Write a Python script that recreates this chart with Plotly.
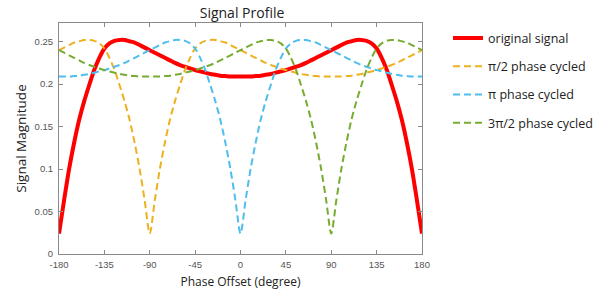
import plotly.graph_objects as go

phase_deg = list(range(-180, 181, 5))

original_signal = [0.024,0.063,0.100,0.131,0.158,0.180,0.199,0.217,0.231,0.242,0.248,0.251,0.252,0.252,0.2505,0.249,0.246,0.243,0.240,0.237,0.234,0.231,0.228,0.225,0.2225,0.2205,0.2185,0.2165,0.215,0.2135,0.212,0.211,0.210,0.2095,0.209,0.209,0.209,
                   0.209,0.209,0.2095,0.210,0.211,0.212,0.2135,0.215,0.2165,0.2185,0.2205,0.2225,0.225,0.228,0.231,0.234,0.237,0.240,0.243,0.246,0.249,0.2505,0.252,0.252,0.251,0.248,0.242,0.231,0.217,0.199,0.180,0.158,0.131,0.100,0.063,0.024]

half_pi_cycled = [0.240,0.243,0.246,0.249,0.2505,0.252,0.252,0.251,0.248,0.242,0.231,0.217,0.199,0.180,0.158,0.131,0.100,0.063,
                  0.024,
                  0.063,0.100,0.131,0.158,0.180,0.199,0.217,0.231,0.242,0.248,0.251,0.252,0.252,0.2505,0.249,0.246,0.243,0.240,0.237,0.234,0.231,0.228,0.225,0.2225,0.2205,0.2185,0.2165,0.215,0.2135,0.212,0.211,0.210,0.2095,0.209,0.209,0.209,
                  0.209,0.209,0.2095,0.210,0.211,0.212,0.2135,0.215,0.2165,0.2185,0.2205,0.2225,0.225,0.228,0.231,0.234,0.237,0.240]

pi_cycled = [0.209,0.209,0.209,0.2095,0.210,0.211,0.212,0.2135,0.215,0.2165,0.2185,0.2205,0.2225,0.225,0.228,0.231,0.234,0.237,0.240,0.243,0.246,0.249,0.2505,0.252,0.252,0.251,0.248,0.242,0.231,0.217,0.199,0.180,0.158,0.131,0.100,0.063,
             0.024,
             0.063,0.100,0.131,0.158,0.180,0.199,0.217,0.231,0.242,0.248,0.251,0.252,0.252,0.2505,0.249,0.246,0.243,0.240,0.237,0.234,0.231,0.228,0.225,0.2225,0.2205,0.2185,0.2165,0.215,0.2135,0.212,0.211,0.210,0.2095,0.209,0.209,0.209]

three_half_pi_cycled = [0.240,0.237,0.234,0.231,0.228,0.225,0.2225,0.2205,0.2185,0.2165,0.215,0.2135,0.212,0.211,0.210,0.2095,0.209,0.209,
                        0.209,0.209,0.209,0.2095,0.210,0.211,0.212,0.2135,0.215,0.2165,0.2185,0.2205,0.2225,0.225,0.228,0.231,0.234,0.237,0.240,0.243,0.246,0.249,0.2505,0.252,0.252,0.251,0.248,0.242,0.231,0.217,0.199,0.180,0.158,0.131,0.100,0.063,
                        0.024,
                        0.063,0.100,0.131,0.158,0.180,0.199,0.217,0.231,0.242,0.248,0.251,0.252,0.252,0.2505,0.249,0.246,0.243,0.240]

x_ticks = [-180, -135, -90, -45, 0, 45, 90, 135, 180]
y_ticks = [0, 0.05, 0.1, 0.15, 0.2, 0.25]
y_tick_labels = ["0", "0.05", "0.1", "0.15", "0.2", "0.25"]

series = [
    ("original signal", original_signal, "#FF0000", "solid", 4),
    ("π/2 phase cycled", half_pi_cycled, "#EDB120", "7px,4px", 2),
    ("π phase cycled", pi_cycled, "#4DBEEE", "7px,4px", 2),
    ("3π/2 phase cycled", three_half_pi_cycled, "#77AC30", "7px,4px", 2),
]

fig = go.Figure()
for i, (name, vals, color, dash, w) in enumerate(series):
    fig.add_trace(go.Scatter(
        x=phase_deg, y=vals, mode="lines", name=name, legendgroup=str(i),
        line=dict(color=color, width=w, dash=dash, shape="spline", smoothing=0.8),
    ))

axis_common = dict(showline=True, linecolor="#8a8a8a", linewidth=1, mirror="ticks",
                   ticks="inside", ticklen=4, tickcolor="#8a8a8a", showgrid=False,
                   zeroline=False, automargin=False,
                   tickfont=dict(family="Liberation Sans", size=9.5, color="#555555"))

fig.update_layout(
    width=597, height=291,
    margin=dict(l=59, r=175, t=23, b=37, autoexpand=False),
    paper_bgcolor="white", plot_bgcolor="white",
    title=dict(text="Signal Profile", x=(242 / 597), xanchor="center", y=0.955, yanchor="middle",
               font=dict(family="Open Sans", size=14, color="#222222")),
    xaxis=dict(range=[-180, 180], tickvals=x_ticks, ticktext=[str(t) for t in x_ticks],
               ticklabelstandoff=2,
               title=dict(text="Phase Offset (degree)", standoff=8,
                          font=dict(family="Open Sans", size=12, color="#222222")),
               **axis_common),
    yaxis=dict(range=[0, 0.272], tickvals=y_ticks, ticktext=y_tick_labels,
               ticklabelstandoff=3,
               title=dict(text="Signal Magnitude", standoff=4,
                          font=dict(family="Open Sans", size=13.5, color="#222222")),
               **axis_common),
    legend=dict(xref="container", x=448 / 597, y=0.998, xanchor="left", yanchor="top", tracegroupgap=9,
                font=dict(family="Open Sans", size=12.5, color="#222222"),
                bgcolor="rgba(0,0,0,0)"),
    showlegend=True,
)

fig.write_html("out.html")
